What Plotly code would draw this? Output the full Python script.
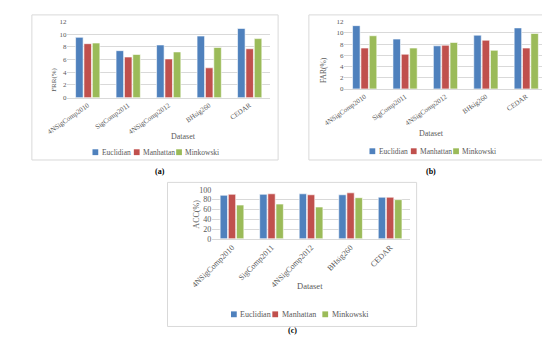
import plotly.graph_objects as go

datasets = ["4NSigComp2010", "SigComp2011", "4NSigComp2012", "BHsig260", "CEDAR"]
methods = ["Euclidian", "Manhattan", "Minkowski"]
colors = ["#4F81BD", "#C0504D", "#9BBB59"]

frr_euclidean = [9.5, 7.4, 8.3, 9.7, 10.9]
frr_manhattan = [8.5, 6.4, 6.1, 4.7, 7.7]
frr_minkowski = [8.6, 6.8, 7.2, 7.9, 9.3]

far_euclidean = [11.3, 8.9, 7.7, 9.6, 10.9]
far_manhattan = [7.3, 6.2, 7.8, 8.7, 7.3]
far_minkowski = [9.5, 7.3, 8.3, 6.9, 9.9]

acc_euclidean = [89, 91, 92, 90, 85]
acc_manhattan = [91, 92, 90, 94, 85]
acc_minkowski = [69, 71, 65, 84, 80]

W, H = 550, 341
FONT = "Liberation Serif"
GRAY = "#595959"
GRID = "#D9D9D9"


def px(x):
    return x / W


def py(y):
    return 1 - y / H


fig = go.Figure()

panels = [
    dict(ax="", series=[frr_euclidean, frr_manhattan, frr_minkowski]),
    dict(ax="2", series=[far_euclidean, far_manhattan, far_minkowski]),
    dict(ax="3", series=[acc_euclidean, acc_manhattan, acc_minkowski]),
]

for p in panels:
    for name, vals, c in zip(methods, p["series"], colors):
        fig.add_trace(go.Bar(
            x=datasets, y=vals, name=name,
            marker=dict(color=c, line=dict(color="white", width=0.6)),
            xaxis="x" + p["ax"], yaxis="y" + p["ax"],
            showlegend=False,
        ))


def xax(angle, size):
    return dict(tickangle=angle, tickfont=dict(family=FONT, size=size, color=GRAY),
                showgrid=False, showline=True, linecolor=GRID, linewidth=1,
                ticks="", fixedrange=True)


def yax(size):
    return dict(tickfont=dict(family=FONT, size=size, color=GRAY), showgrid=True,
                gridcolor=GRID, gridwidth=1, zeroline=False, showline=False,
                ticks="", fixedrange=True)


fig.update_layout(
    width=W, height=H,
    margin=dict(l=0, r=0, t=0, b=0),
    paper_bgcolor="white", plot_bgcolor="white",
    barmode="group", bargap=0.38, bargroupgap=0.1,
    font=dict(family=FONT, color=GRAY),
    showlegend=False,
    xaxis=dict(domain=[px(40), px(250.5)], anchor="y", **xax(-35, 7)),
    yaxis=dict(domain=[py(88), py(9.7)], anchor="x", range=[0, 12], dtick=2, **yax(7)),
    xaxis2=dict(domain=[px(328), px(538)], anchor="y2", **xax(-35, 7)),
    yaxis2=dict(domain=[py(79), py(10)], anchor="x2", range=[0, 12], dtick=2, **yax(7)),
    xaxis3=dict(domain=[px(190.5), px(396)], anchor="y3", **xax(-45, 8)),
    yaxis3=dict(domain=[py(233), py(182.7)], anchor="x3", range=[0, 100], dtick=20, **yax(8)),
)

# panel frames
for x0, y0, x1, y1 in [(3, 3, 259, 152), (291, 3, 546, 152), (144, 175, 403, 323)]:
    fig.add_shape(type="rect", xref="paper", yref="paper",
                  x0=px(x0), x1=px(x1), y0=py(y1), y1=py(y0),
                  line=dict(color=GRID, width=1), fillcolor="rgba(0,0,0,0)")

ann = []
# compact legends (key square + label) under each panel
legend_rows = [
    dict(y=144, keys=[69, 112, 156], size=7.5),
    dict(y=143, keys=[357, 400, 444], size=7.5),
    dict(y=310.5, keys=[213, 256, 308], size=8),
]
for row in legend_rows:
    for name, c, kx in zip(methods, colors, row["keys"]):
        fig.add_shape(type="rect", xref="paper", yref="paper",
                      x0=px(kx - 3), x1=px(kx + 3), y0=py(row["y"] + 3), y1=py(row["y"] - 3),
                      line=dict(width=0), fillcolor=c)
        ann.append(dict(x=px(kx + 4.5), y=py(row["y"]), text=name, showarrow=False,
                        xref="paper", yref="paper", xanchor="left", yanchor="middle",
                        font=dict(family=FONT, size=row["size"], color=GRAY)))

# axis titles
for x, y, t, s in [(146, 128, "Dataset", 8), (434, 125, "Dataset", 8), (292, 289, "Dataset", 8.5)]:
    ann.append(dict(x=px(x), y=py(y), text=t, showarrow=False, xref="paper", yref="paper",
                    font=dict(family=FONT, size=s, color=GRAY)))
for x, y, t, s in [(19, 55, "FRR(%)", 7), (307, 44, "FAR(%)", 7.5), (167, 208, "ACC(%)", 8)]:
    ann.append(dict(x=px(x), y=py(y), text=t, showarrow=False, xref="paper", yref="paper",
                    textangle=-90, font=dict(family=FONT, size=s, color=GRAY)))
# panel labels
for x, y, t in [(129, 164, "<b>(a)</b>"), (425, 164, "<b>(b)</b>"), (274, 334, "<b>(c)</b>")]:
    ann.append(dict(x=px(x), y=py(y), text=t, showarrow=False, xref="paper", yref="paper",
                    font=dict(family=FONT, size=8, color="#000000")))
fig.update_layout(annotations=ann)

fig.write_html("out.html")
